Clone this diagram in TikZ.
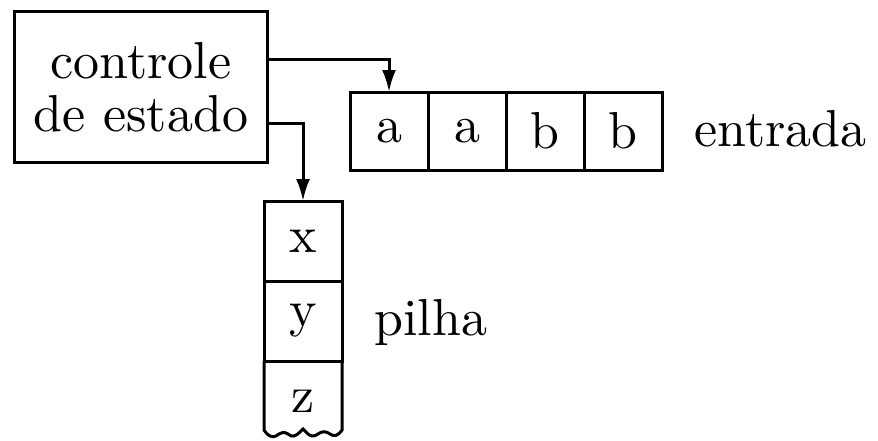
\documentclass[tikz,border=0pt]{standalone}
\usetikzlibrary{arrows.meta}
\begin{document}
\begin{tikzpicture}[x=0.2pt,y=-0.2pt,line width=0.6pt,
  every node/.style={font=\fontsize{10.4}{12}\selectfont},
  cell/.style={draw,minimum width=15.6pt,minimum height=15.6pt,inner sep=0pt,outer sep=0pt},
  scell/.style={minimum width=15.6pt,minimum height=16pt,inner sep=0pt,outer sep=0pt},
  conn/.style={-{Latex[length=4.4pt,width=2.8pt]}},
  lbl/.style={anchor=base west,inner sep=0pt}]
\useasboundingbox (0,0) rectangle (878,440);
% control box
\node[draw,minimum width=50.4pt,minimum height=30pt,inner sep=0pt,outer sep=0pt,
  align=center,font=\fontsize{10.4}{10.6}\selectfont] (ctrl) at (141,87) {controle\\de estado};
% input tape
\node[cell] (t1) at (389,131) {a};
\node[cell] (t2) at (467,131) {a};
\node[cell] (t3) at (545,131) {b};
\node[cell] (t4) at (623,131) {b};
\node[lbl] (ent) at (693,146) {entrada};
% stack
\node[scell,draw] (s1) at (303,241) {x};
\node[scell,draw] (s2) at (303,321) {y};
\node[scell] (s3) at (303,401) {z};
\coordinate (sl) at (264,430);
\coordinate (sr) at (342,430);
\draw (s3.north west) -- (sl)
  .. controls (268,436) and (272,438) .. (276,436)
  .. controls (280,433) and (284,431) .. (288,434)
  .. controls (292,438) and (296,436) .. (300,432)
  -- (303,429) -- (306,432)
  .. controls (310,437) and (314,437) .. (318,434)
  .. controls (322,431) and (326,431) .. (330,434)
  .. controls (334,437) and (338,436) .. (sr) -- (s3.north east);
\node[lbl] (pil) at (373,335) {pilha};
% connectors
\draw[conn] (ctrl.east |- 0,59) -| (t1.north);
\draw[conn] (ctrl.east |- 0,123) -| (s1.north);
\end{tikzpicture}
\end{document}
